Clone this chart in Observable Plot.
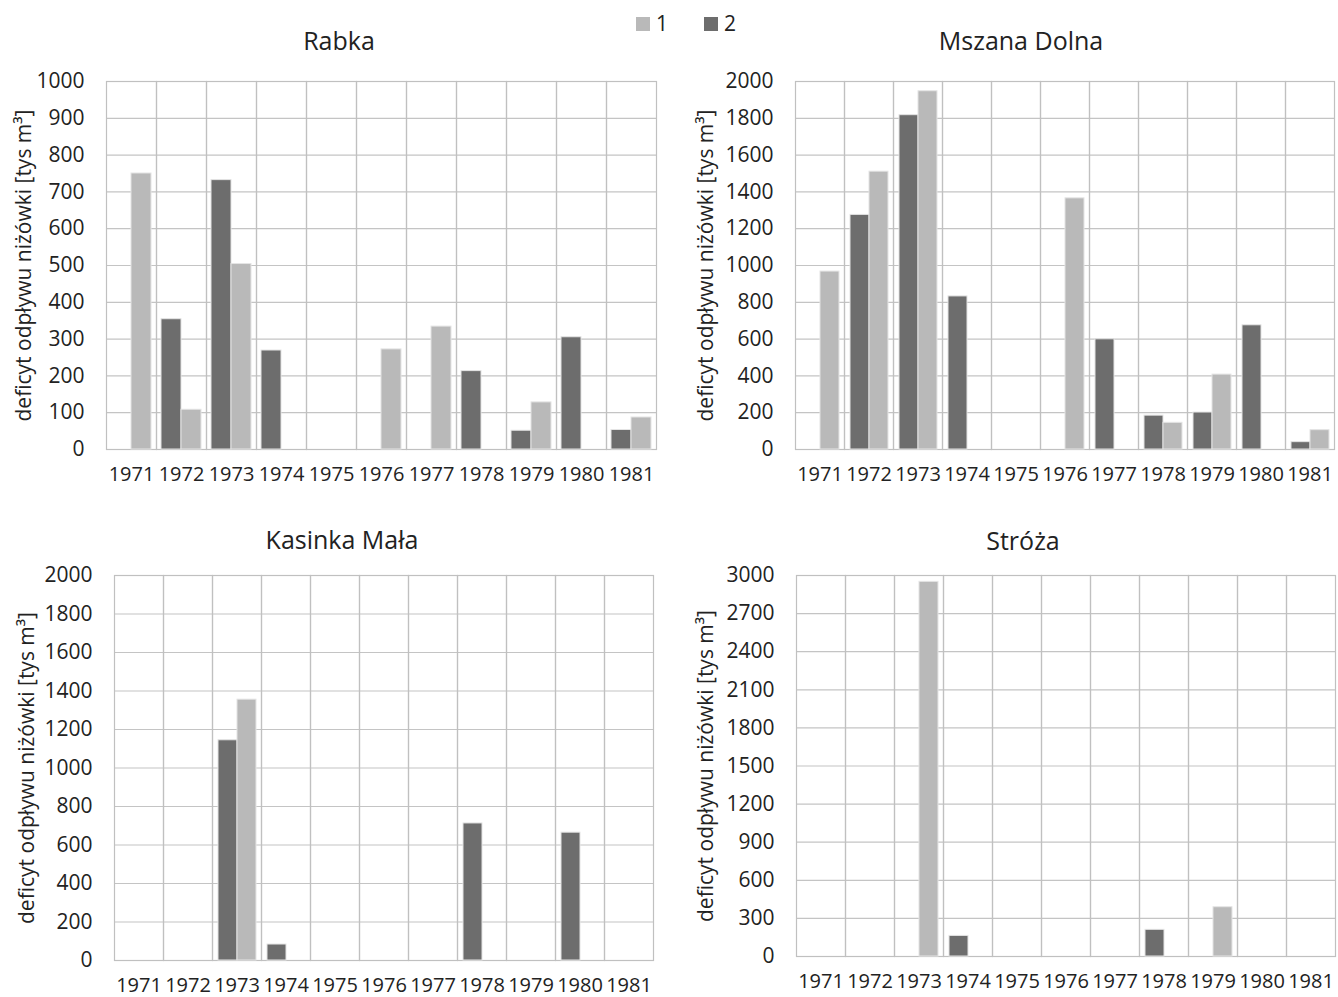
<!DOCTYPE html>
<html>
<head>
<meta charset="utf-8">
<script src="https://cdn.jsdelivr.net/npm/d3@7"></script>
<script src="https://cdn.jsdelivr.net/npm/@observablehq/plot@0.6"></script>
<style>
  html, body { margin: 0; padding: 0; background: #fff; }
  #root { position: relative; width: 1338px; height: 997px; overflow: hidden; background: #fff; font-family: "Open Sans", sans-serif; color: #222; }
  .title { position: absolute; font-size: 25px; line-height: 30px; white-space: nowrap; transform: translateX(-50%); }
  .panel { position: absolute; }
  .panel svg { max-width: none !important; }
  .sw { position: absolute; width: 14px; height: 14px; }
  .lg { position: absolute; font-size: 21px; line-height: 24px; }
</style>
</head>
<body>
<div id="root"></div>
<script>
const years = [1971, 1972, 1973, 1974, 1975, 1976, 1977, 1978, 1979, 1980, 1981];
const seriesNames = ["1", "2"];
const seriesColors = ["#b9b9b9", "#6d6d6d"];

const rabka1 = [750, 108, 504, 0, 0, 272, 334, 0, 128, 0, 87];
const rabka2 = [0, 354, 732, 269, 0, 0, 0, 213, 51, 305, 53];
const mszana1 = [967, 1510, 1947, 0, 0, 1365, 0, 145, 407, 0, 105];
const mszana2 = [0, 1275, 1817, 832, 0, 0, 599, 184, 201, 675, 40];
const kasinka1 = [0, 0, 1355, 0, 0, 0, 0, 0, 0, 0, 0];
const kasinka2 = [0, 0, 1144, 83, 0, 0, 0, 712, 0, 664, 0];
const stroza1 = [0, 0, 2950, 0, 0, 0, 0, 0, 388, 0, 0];
const stroza2 = [0, 0, 0, 162, 0, 0, 0, 210, 0, 0, 0];

const ticks1000 = [0, 100, 200, 300, 400, 500, 600, 700, 800, 900, 1000];
const ticks2000 = [0, 200, 400, 600, 800, 1000, 1200, 1400, 1600, 1800, 2000];
const ticks3000 = [0, 300, 600, 900, 1200, 1500, 1800, 2100, 2400, 2700, 3000];

const titles = ["Rabka", "Mszana Dolna", "Kasinka Mała", "Stróża"];
const yLabel = "deficyt odpływu niżówki [tys m³]";

const root = document.getElementById("root");

function rowsOf(s1, s2) {
  return years.flatMap((y, i) => [
    {year: y, series: "2", value: s2[i]},
    {year: y, series: "1", value: s1[i]}
  ]);
}

function panel(cfg) {
  const rows = rowsOf(cfg.s1, cfg.s2);
  const chart = Plot.plot({
    width: cfg.width,
    height: cfg.height,
    marginLeft: cfg.ml,
    marginRight: cfg.mr,
    marginTop: cfg.mt,
    marginBottom: cfg.mb,
    style: {fontFamily: "'Open Sans', sans-serif", fontSize: "20px", color: "#222", background: "transparent", overflow: "visible", maxWidth: "none"},
    fx: {domain: years, padding: 0, label: null},
    x: {domain: ["2", "1"], paddingInner: 0, paddingOuter: 0.25, axis: null},
    y: {domain: [0, cfg.ticks[cfg.ticks.length - 1]], axis: null},
    color: {domain: seriesNames, range: seriesColors},
    marks: [
      Plot.gridY(cfg.ticks, {stroke: "#c4c4c4", strokeOpacity: 1, strokeWidth: 1.2}),
      Plot.frame({stroke: "#c0c0c0", strokeWidth: 1.2}),
      Plot.barY(rows, {fx: "year", x: "series", y: "value", fill: "series", stroke: "#e4e4e4", strokeWidth: 1}),
      Plot.axisY(cfg.ticks, {tickSize: 0, tickPadding: 22, tickFormat: d3.format("d"), label: yLabel, labelAnchor: "center", labelOffset: cfg.lo, labelArrow: "none", fontSize: 21}),
      Plot.axisFx({anchor: "bottom", tickSize: 0, tickPadding: 17, tickFormat: d => `${d}`, label: null, fontSize: 20})
    ]
  });
  const wrap = document.createElement("div");
  wrap.className = "panel";
  wrap.style.left = cfg.left + "px";
  wrap.style.top = cfg.top + "px";
  wrap.style.width = cfg.width + "px";
  wrap.appendChild(chart);
  root.appendChild(wrap);

  const t = document.createElement("div");
  t.className = "title";
  t.textContent = cfg.title;
  t.style.left = cfg.tx + "px";
  t.style.top = (cfg.ty - 16.5) + "px";
  root.appendChild(t);
}

panel({title: titles[0], s1: rabka1, s2: rabka2, ticks: ticks1000, left: 0, top: 60, width: 669, height: 434, ml: 103, mr: 11, mt: 21, mb: 45, lo: 90, tx: 339, ty: 41.5});
panel({title: titles[1], s1: mszana1, s2: mszana2, ticks: ticks2000, left: 669, top: 60, width: 672, height: 434, ml: 121, mr: 2, mt: 21, mb: 45, lo: 97, tx: 1021, ty: 41.5});
panel({title: titles[2], s1: kasinka1, s2: kasinka2, ticks: ticks2000, left: 0, top: 555, width: 669, height: 442, ml: 110, mr: 12, mt: 20, mb: 37, lo: 95, tx: 342, ty: 540});
panel({title: titles[3], s1: stroza1, s2: stroza2, ticks: ticks3000, left: 669, top: 555, width: 672, height: 442, ml: 123, mr: 2, mt: 20, mb: 41, lo: 98, tx: 1023, ty: 541});

// legend
const legendX = [636, 704];
seriesNames.forEach((name, i) => {
  const sw = document.createElement("div");
  sw.className = "sw";
  sw.style.left = legendX[i] + "px";
  sw.style.top = "17px";
  sw.style.background = seriesColors[i];
  root.appendChild(sw);
  const tx = document.createElement("div");
  tx.className = "lg";
  tx.style.left = (legendX[i] + 20) + "px";
  tx.style.top = "11px";
  tx.textContent = name;
  root.appendChild(tx);
});
</script>
</body>
</html>
